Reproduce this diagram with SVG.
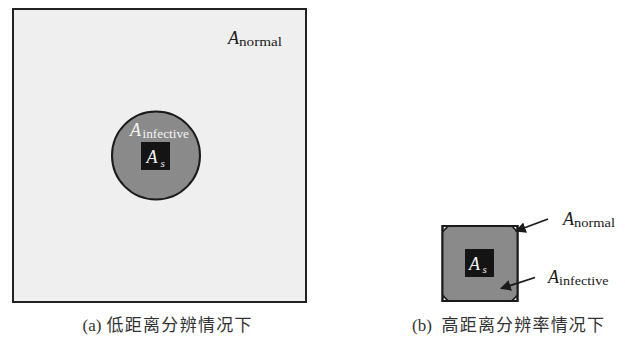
<svg xmlns="http://www.w3.org/2000/svg" width="625" height="338" viewBox="0 0 625 338">
<defs>
<style>
.lbl{fill:#1a1a1a}
.wt{fill:#f4f4f4}
.cap{fill:#333}
.edge{stroke:#1a1a1a;stroke-width:1.8;fill:none}
</style>
<marker id="ah" viewBox="0 0 10 10" refX="9" refY="5" markerWidth="6" markerHeight="6" orient="auto" markerUnits="strokeWidth">
<path d="M0,0 L10,5 L0,10 z" fill="#1a1a1a"/>
</marker>
<clipPath id="sqclip"><rect x="442.5" y="226" width="75" height="75"/></clipPath>
</defs>
<rect width="625" height="338" fill="#ffffff"/>

<g id="panel-a-normal">
<rect x="13" y="9" width="293" height="293" fill="#efefef" stroke="#222" stroke-width="2"/>
<text class="lbl" x="228" y="44" font-size="18" font-family="Liberation Serif, serif" font-style="italic">A</text>
<text class="lbl" x="239" y="46" font-size="13" font-family="Liberation Serif, serif" textLength="43" lengthAdjust="spacingAndGlyphs">normal</text>
</g>

<g id="panel-a-infective">
<circle cx="156" cy="155.5" r="44" fill="#8a8a8a" stroke="#1a1a1a" stroke-width="2"/>
<text class="wt" x="130" y="136" font-size="18" font-family="Liberation Serif, serif" font-style="italic">A</text>
<text class="wt" x="142.5" y="137.5" font-size="13" font-family="Liberation Serif, serif" textLength="46.5" lengthAdjust="spacingAndGlyphs">infective</text>
</g>

<g id="panel-a-s">
<rect x="141" y="142" width="29" height="28" fill="#141414"/>
<text class="wt" x="146.5" y="163" font-size="18" font-family="Liberation Serif, serif" font-style="italic">A</text>
<text class="wt" x="160.5" y="166.5" font-size="11" font-family="Liberation Serif, serif" font-style="italic">s</text>
</g>

<g id="caption-a">
<text class="cap" x="82.5" y="331" font-size="17" font-family="Liberation Serif, serif">(a)</text>
<text class="cap" x="106.5" y="331" font-size="17" font-family="Liberation Serif, Noto Sans CJK SC, serif" textLength="145" lengthAdjust="spacing">低距离分辨情况下</text>
</g>

<g id="panel-b-normal">
<rect x="442.5" y="226" width="75" height="75" fill="#ffffff" stroke="#1a1a1a" stroke-width="2"/>
<text class="lbl" x="563" y="225" font-size="18" font-family="Liberation Serif, serif" font-style="italic">A</text>
<text class="lbl" x="574" y="227" font-size="13" font-family="Liberation Serif, serif" textLength="41" lengthAdjust="spacingAndGlyphs">normal</text>
</g>

<g id="panel-b-infective">
<circle cx="480" cy="263.5" r="49" fill="#8a8a8a" stroke="#1a1a1a" stroke-width="1.5" clip-path="url(#sqclip)"/>
<rect x="442.5" y="226" width="75" height="75" fill="none" stroke="#1a1a1a" stroke-width="2"/>
<text class="lbl" x="548" y="283" font-size="18" font-family="Liberation Serif, serif" font-style="italic">A</text>
<text class="lbl" x="559" y="285" font-size="13" font-family="Liberation Serif, serif" textLength="49.5" lengthAdjust="spacingAndGlyphs">infective</text>
</g>

<g id="panel-b-s">
<rect x="465" y="249" width="29" height="28" fill="#141414"/>
<text class="wt" x="469" y="269.5" font-size="18" font-family="Liberation Serif, serif" font-style="italic">A</text>
<text class="wt" x="482.5" y="273" font-size="11" font-family="Liberation Serif, serif" font-style="italic">s</text>
</g>

<g id="caption-b">
<text class="cap" x="412" y="331" font-size="17" font-family="Liberation Serif, serif">(b)</text>
<text class="cap" x="441.5" y="331" font-size="17" font-family="Liberation Serif, Noto Sans CJK SC, serif" textLength="162.5" lengthAdjust="spacing">高距离分辨率情况下</text>
</g>

<g id="connectors">
<line class="edge" x1="548" y1="219" x2="516" y2="231" marker-end="url(#ah)"/>
<line class="edge" x1="535" y1="277.5" x2="501" y2="288.5" marker-end="url(#ah)"/>
</g>
</svg>
